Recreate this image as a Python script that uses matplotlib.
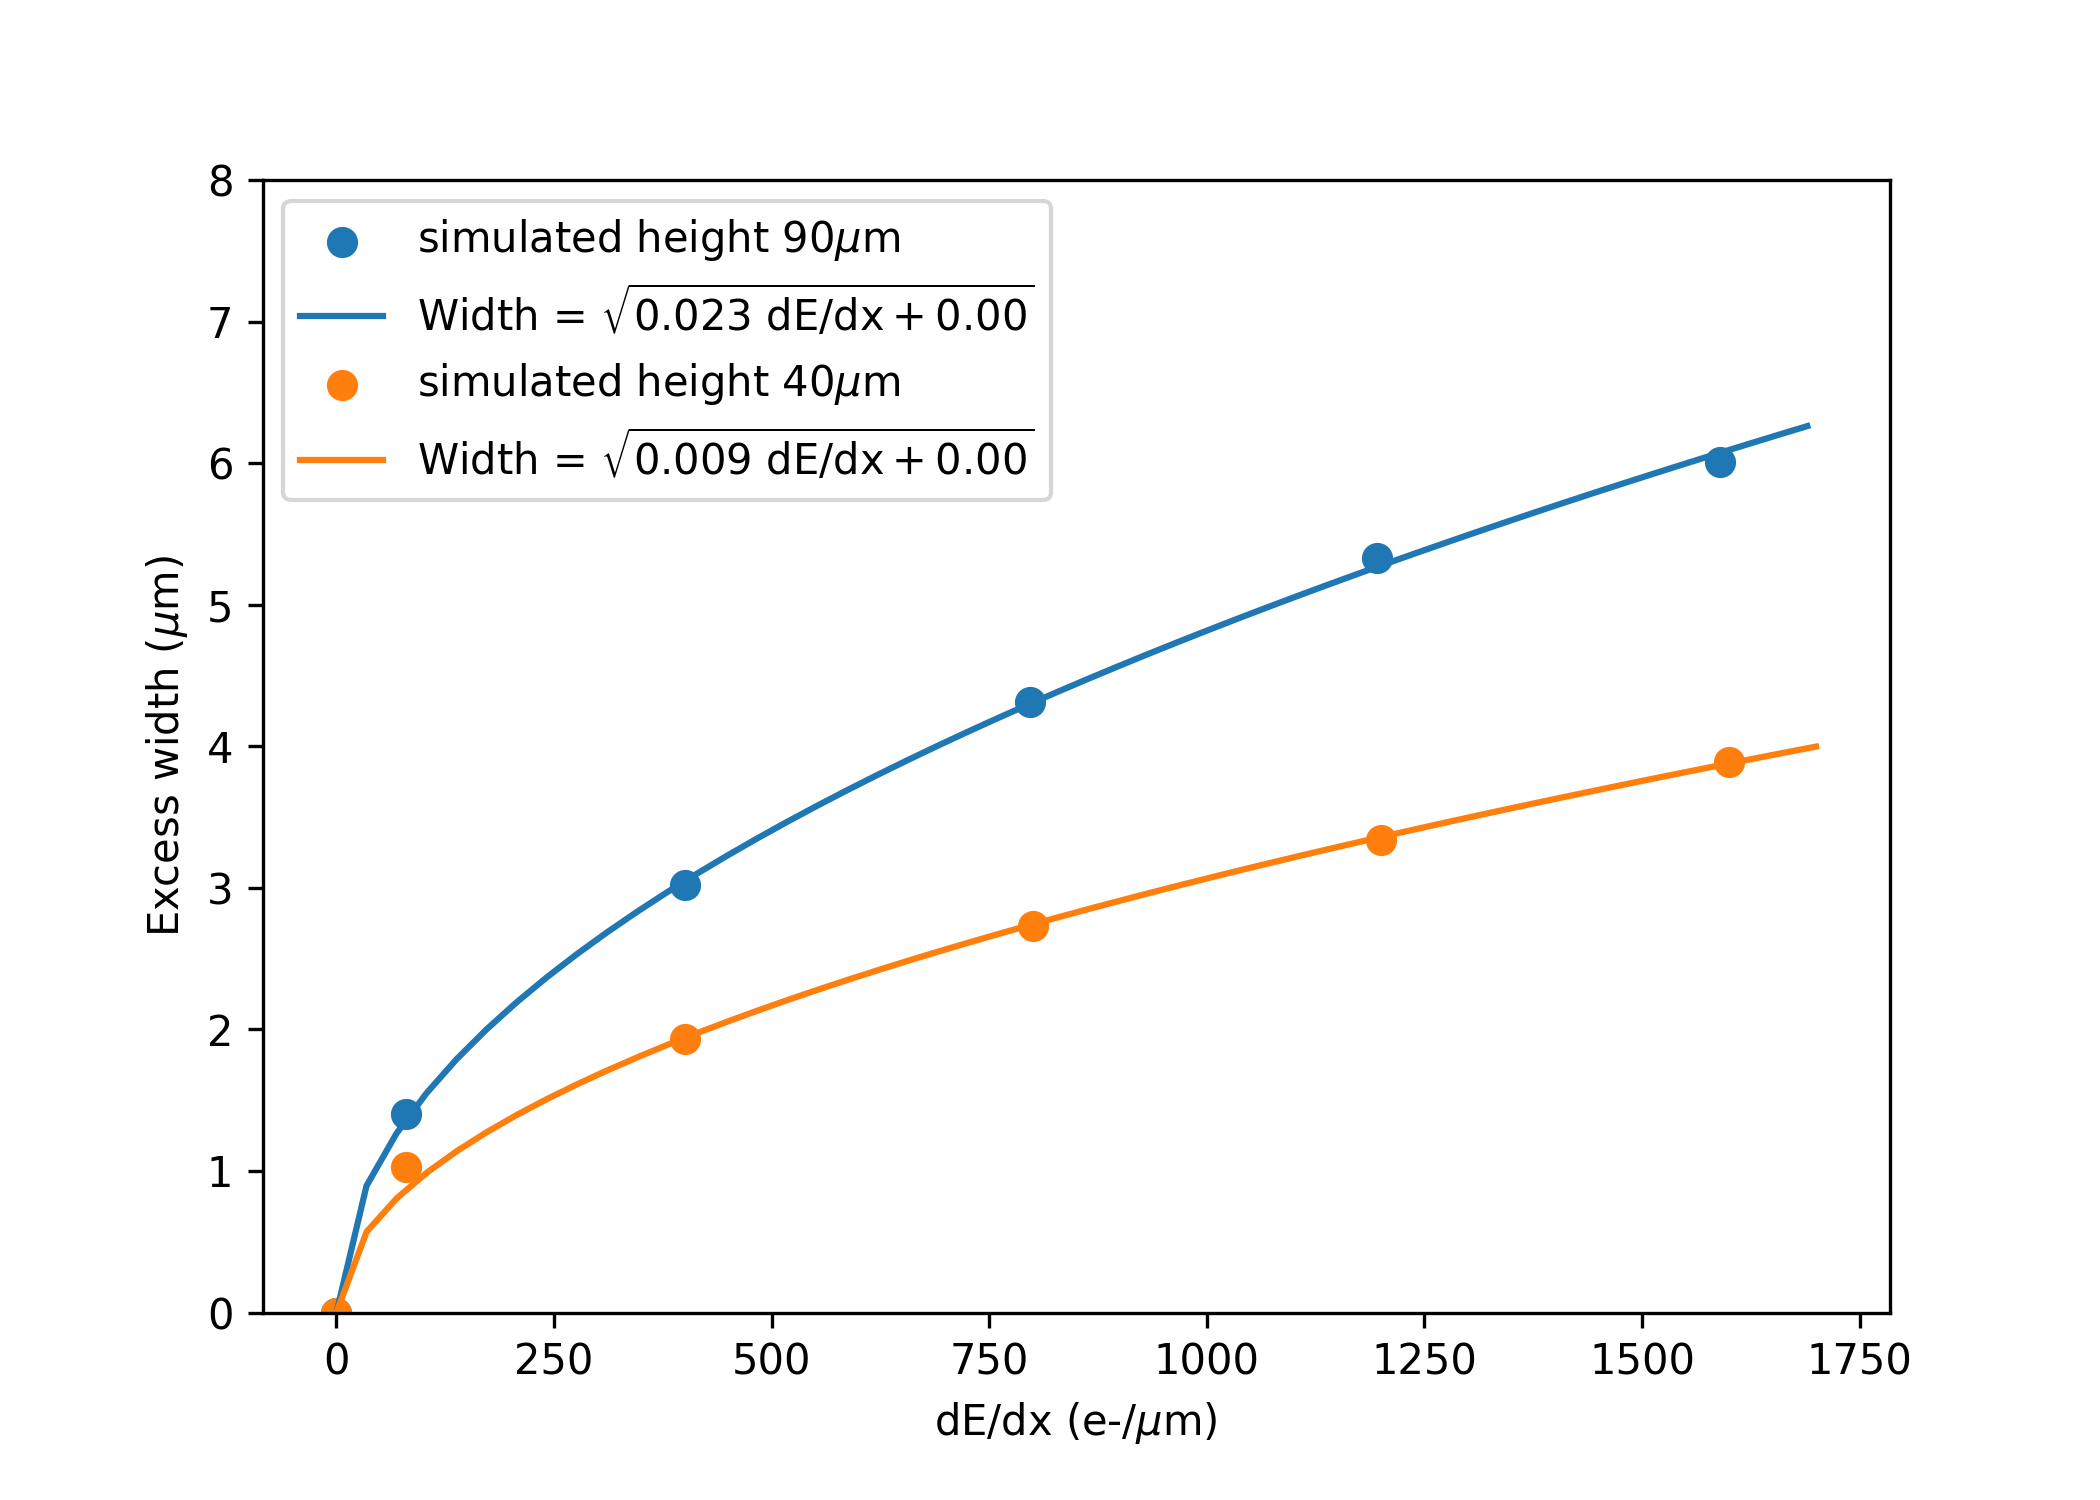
import numpy as np
import matplotlib
matplotlib.use("Agg")
import matplotlib.pyplot as plt

# simulated excess width vs dE/dx, two sensor heights
dedx_90 = [0, 80, 400, 797, 1195, 1590]
width_90 = [0.0, 1.40, 3.02, 4.31, 5.33, 6.01]
dedx_40 = [0, 80, 400, 800, 1200, 1600]
width_40 = [0.0, 1.03, 1.93, 2.73, 3.34, 3.89]

# fit parameters for Width = sqrt(a*dE/dx + b)
fit_a_90, fit_b_90 = 0.0232, 0.0
fit_a_40, fit_b_40 = 0.0094, 0.0
fit_xmax_90 = 1690
fit_xmax_40 = 1700


def fit_label(a, b):
    return r"Width = $\sqrt{%.3f\ \mathrm{dE/dx} + %.2f}$" % (a, b)


fig, ax = plt.subplots(figsize=(7, 5), dpi=300)
fig.subplots_adjust(left=0.125, right=0.9, top=0.88, bottom=0.125)

xf90 = np.linspace(0, fit_xmax_90, 50)
xf40 = np.linspace(0, fit_xmax_40, 50)

ax.scatter(dedx_90, width_90, s=42, color="#1f77b4", label=r"simulated height 90$\mu$m")
ax.plot(xf90, np.sqrt(fit_a_90 * xf90 + fit_b_90), color="#1f77b4",
        label=fit_label(fit_a_90, fit_b_90))
ax.scatter(dedx_40, width_40, s=42, color="#ff7f0e", label=r"simulated height 40$\mu$m")
ax.plot(xf40, np.sqrt(fit_a_40 * xf40 + fit_b_40), color="#ff7f0e",
        label=fit_label(fit_a_40, fit_b_40))

ax.set_ylim(0, 8)
ax.set_xlabel(r"dE/dx (e-/$\mu$m)")
ax.set_ylabel(r"Excess width ($\mu$m)")
ax.legend(loc="upper left")

fig.savefig("out.png", dpi=300)
